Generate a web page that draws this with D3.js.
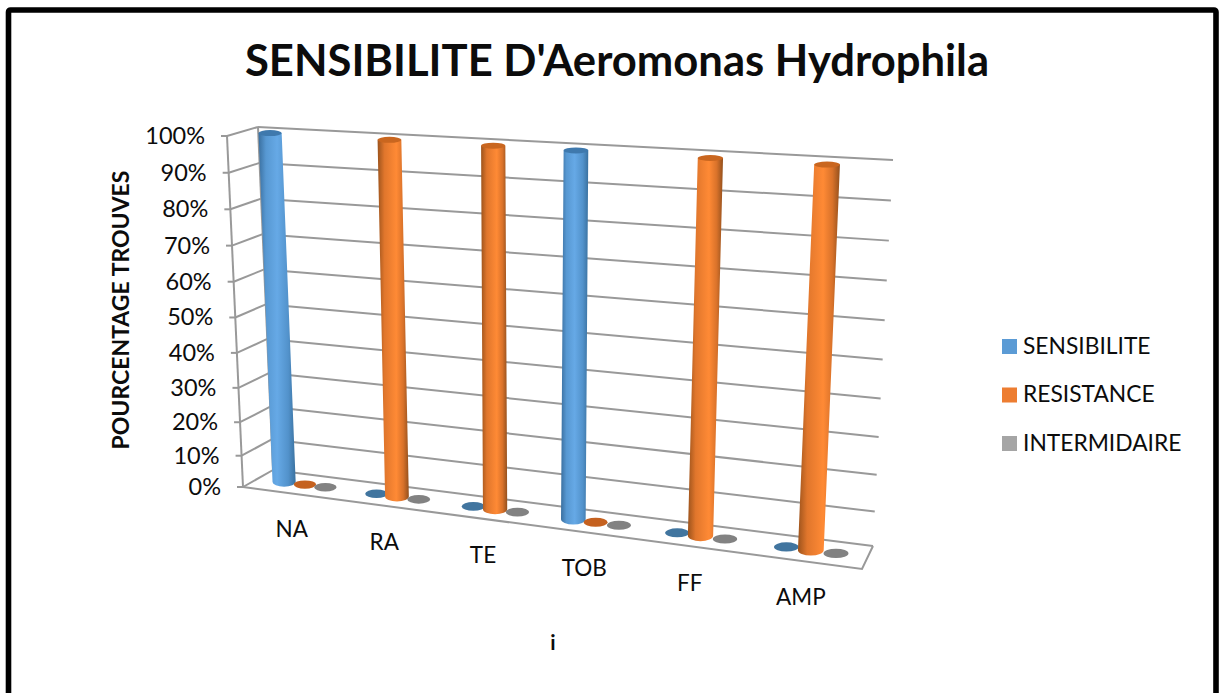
<!DOCTYPE html>
<html><head><meta charset="utf-8">
<script src="https://cdn.jsdelivr.net/npm/d3@7/dist/d3.min.js"></script>
<style>html,body{margin:0;padding:0;background:#fff}svg{display:block}text{font-family:Lato,"Open Sans",sans-serif;fill:#0c0c0c}</style>
</head><body><svg id="c" width="1224" height="693"></svg>
<script>
const categories = ["NA","RA","TE","TOB","FF","AMP"];
const seriesNames = ["SENSIBILITE","RESISTANCE","INTERMIDAIRE"];
const sensibilite = [100,0,0,100,0,0];
const resistance = [0,100,100,0,100,100];
const intermidaire = [0,0,0,0,0,0];
const tickLabels = ["0%","10%","20%","30%","40%","50%","60%","70%","80%","90%","100%"];
const tickValues = [0,10,20,30,40,50,60,70,80,90,100];
const titleText = "SENSIBILITE D'Aeromonas Hydrophila";
const yTitle = "POURCENTAGE TROUVES";
const xTitle = "i";
const seriesValues = [sensibilite,resistance,intermidaire];

const svg = d3.select("#c");
const BL=[273,470],BR=[873,546],FL=[243,487],FR=[862,569],
      TBL=[258,127],TBR=[893,160],TFL=[227,136],TFR=[881,176];
const lerp=(a,b,t)=>[a[0]+(b[0]-a[0])*t,a[1]+(b[1]-a[1])*t];
// perspective along the category axis
const uScale=d3.scaleLinear()
  .domain([0,1/12,3/12,5/12,7/12,9/12,11/12,1])
  .range([0,.077,.228,.389,.554,.726,.907,1]);
const zScale=d3.scalePow().exponent(1.05).domain([0,100]).range([0,1]);
function project(u,d,v){
  const w=uScale(Math.max(0,u)), t=zScale(v);
  const low=lerp(lerp(BL,BR,w),lerp(FL,FR,w),d);
  const high=lerp(lerp(TBL,TBR,w),lerp(TFL,TFR,w),d);
  return lerp(low,high,t);
}
const x0=d3.scaleBand().domain(categories).range([0,1]);
const x1=d3.scaleBand().domain(seriesNames).range([-0.0555,0.0555]);
const radius=d3.scaleLinear().domain([0,1]).range([11.5,13]);
const labelShift=d3.scaleLinear().domain([0,1]).range([1.5,-4]);
const midD=0.5;
const line=(a,b)=>`M${a[0]},${a[1]}L${b[0]},${b[1]}`;

// frame
svg.append("rect").attr("x",8.5).attr("y",10).attr("width",1207.5).attr("height",700).attr("rx",2)
  .attr("fill","#fff").attr("stroke","#000").attr("stroke-width",5.6);

// gradients
const defs=svg.append("defs");
const grads={
  SENSIBILITE:[["0","#3a6f9f"],["0.2","#5798d2"],["0.5","#66a9e6"],["0.8","#5292cb"],["1","#3a719f"]],
  RESISTANCE:[["0","#9c531c"],["0.22","#e0762c"],["0.6","#ff8a35"],["0.82","#d9722a"],["1","#93501d"]],
  INTERMIDAIRE:[["0","#777"],["1","#999"]]};
Object.entries(grads).forEach(([k,st])=>{
  const g=defs.append("linearGradient").attr("id","g"+k);
  st.forEach(s=>g.append("stop").attr("offset",s[0]).attr("stop-color",s[1]));
});
const topFill={SENSIBILITE:"#3f79ad",RESISTANCE:"#c9661f",INTERMIDAIRE:"#7f7f7f"};
const discFill={SENSIBILITE:"#41759f",RESISTANCE:"#c5611f",INTERMIDAIRE:"#828282"};

// walls and floor
const grid=svg.append("g").attr("fill","none").attr("stroke","#999").attr("stroke-width",2);
tickValues.forEach(v=>{
  const f=project(0,1,v), b=project(0,0,v), r=project(1,0,v);
  grid.append("path").attr("d",line([f[0]-6,f[1]],f));
  grid.append("path").attr("d",line(f,b));
  grid.append("path").attr("d",line(b,r));
});
grid.append("path").attr("d",line(project(0,1,0),project(0,1,100)));
grid.append("path").attr("d",line(project(0,0,0),project(0,0,100)));
grid.append("path").attr("d",`M${FL}L${FR}L${BR}`);

// columns
const cols=svg.append("g");
categories.forEach((c,i)=>{
  seriesNames.forEach((s,j)=>{
    const val=seriesValues[j][i];
    const u=x0(c)+x0.bandwidth()/2+x1(s)+x1.bandwidth()/2;
    const bc=project(u,midD,0);
    const rx=radius(u);
    if(val<=0){
      cols.append("ellipse").attr("cx",bc[0]).attr("cy",bc[1]).attr("rx",rx*0.96).attr("ry",rx*0.36)
        .attr("fill",discFill[s]);
      return;
    }
    const tc=project(u,midD,val);
    const trx=rx, bry=rx*0.42, tRy=3;
    const path=`M${tc[0]-trx},${tc[1]}L${bc[0]-rx},${bc[1]}A${rx},${bry} 0 0 0 ${bc[0]+rx},${bc[1]}L${tc[0]+trx},${tc[1]}Z`;
    cols.append("path").attr("d",path).attr("fill",`url(#g${s})`);
    cols.append("ellipse").attr("cx",tc[0]).attr("cy",tc[1]).attr("rx",trx).attr("ry",tRy).attr("fill",topFill[s]);
  });
});

// tick labels
const tl=svg.append("g").attr("font-size",23.5).attr("text-anchor","end");
tickValues.forEach((v,i)=>{
  const f=project(0,1,v);
  tl.append("text").attr("x",f[0]-22).attr("y",f[1]+8).text(tickLabels[i]);
});
// category labels
const cl=svg.append("g").attr("font-size",22.5).attr("text-anchor","middle");
categories.forEach(c=>{
  const uc=x0(c)+x0.bandwidth()/2;
  const p=project(uc,1,0);
  cl.append("text").attr("x",p[0]+labelShift(uc)).attr("y",p[1]+44).text(c);
});
// titles
svg.append("text").attr("x",617).attr("y",76).attr("text-anchor","middle").attr("font-size",43.6).attr("font-weight",700).text(titleText);
svg.append("text").attr("transform","translate(129,310) rotate(-90)").attr("text-anchor","middle").attr("font-size",23).attr("font-weight",700).text(yTitle);
svg.append("text").attr("x",553).attr("y",650).attr("text-anchor","middle").attr("font-size",21).attr("font-weight",700).text(xTitle);
// legend
const legendColors=d3.scaleOrdinal().domain(seriesNames).range(["#5b9bd5","#ed7d31","#a5a5a5"]);
const ly=d3.scalePoint().domain(seriesNames).range([346.5,443.5]);
seriesNames.forEach(s=>{
  svg.append("rect").attr("x",1002).attr("y",ly(s)-7.5).attr("width",15).attr("height",15).attr("fill",legendColors(s));
  svg.append("text").attr("x",1023).attr("y",ly(s)+7).attr("font-size",22.8).text(s);
});
</script></body></html>
